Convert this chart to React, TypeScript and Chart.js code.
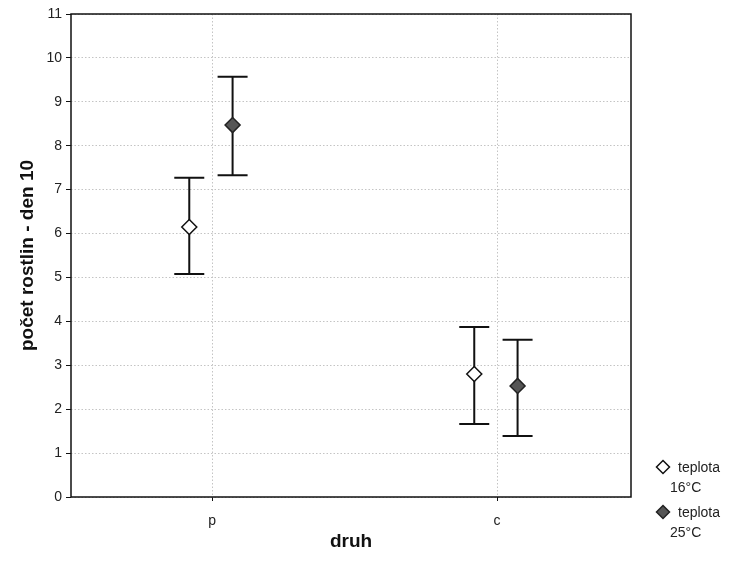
import React, { useEffect, useRef } from "react";
import { Chart, registerables } from "chart.js";

Chart.register(...registerables);

const categories = ["p", "c"];
const seriesLabels = ["teplota 16°C", "teplota 25°C"];
const mean16 = [6.15, 2.8];
const upper16 = [7.27, 3.87];
const lower16 = [5.08, 1.66];
const mean25 = [8.47, 2.53];
const upper25 = [9.57, 3.58];
const lower25 = [7.33, 1.39];
const yTicks = [0, 1, 2, 3, 4, 5, 6, 7, 8, 9, 10, 11];

const FONT = "'Liberation Sans', Arial, sans-serif";
const OFFSET_LEFT = -0.08;
const OFFSET_RIGHT = 0.072;

const errorBarPlugin = {
  id: "errorBars",
  beforeDatasetsDraw(chart: any) {
    const { ctx } = chart;
    const xs = chart.scales.x;
    const ys = chart.scales.y;
    ctx.save();
    ctx.strokeStyle = "#111";
    ctx.lineWidth = 2;
    chart.data.datasets.forEach((ds: any) => {
      ds.data.forEach((pt: any) => {
        const x = xs.getPixelForValue(pt.x);
        const yU = ys.getPixelForValue(pt.hi);
        const yL = ys.getPixelForValue(pt.lo);
        ctx.beginPath();
        ctx.moveTo(x, yU);
        ctx.lineTo(x, yL);
        ctx.moveTo(x - 15, yU);
        ctx.lineTo(x + 15, yU);
        ctx.moveTo(x - 15, yL);
        ctx.lineTo(x + 15, yL);
        ctx.stroke();
      });
    });
    ctx.restore();
  },
  afterDraw(chart: any) {
    const { ctx, chartArea } = chart;
    ctx.save();
    ctx.strokeStyle = "#111";
    ctx.lineWidth = 1.5;
    ctx.strokeRect(chartArea.left, chartArea.top, chartArea.right - chartArea.left, chartArea.bottom - chartArea.top);
    // legend
    const baseX = chartArea.right + 32;
    const baseY = chartArea.bottom - 30;
    chart.data.datasets.forEach((ds: any, i: number) => {
      const y = baseY + i * 45;
      const words = ds.label.split(" ");
      ctx.beginPath();
      ctx.moveTo(baseX, y - 6.5);
      ctx.lineTo(baseX + 6.5, y);
      ctx.lineTo(baseX, y + 6.5);
      ctx.lineTo(baseX - 6.5, y);
      ctx.closePath();
      ctx.fillStyle = ds.backgroundColor;
      ctx.fill();
      ctx.lineWidth = 1.5;
      ctx.strokeStyle = ds.borderColor;
      ctx.stroke();
      ctx.fillStyle = "#222";
      ctx.font = `14px ${FONT}`;
      ctx.textBaseline = "middle";
      ctx.textAlign = "left";
      ctx.fillText(words[0], baseX + 15, y + 1);
      ctx.fillText(words[1], baseX + 7, y + 21);
    });
    ctx.restore();
  },
};

export default function App() {
  const ref = useRef<HTMLCanvasElement>(null);
  useEffect(() => {
    if (!ref.current) return;
    const mk = (means: number[], hi: number[], lo: number[], off: number) =>
      categories.map((_, i) => ({ x: i + 1 + off, y: means[i], hi: hi[i], lo: lo[i] }));
    const chart = new Chart(ref.current, {
      type: "scatter",
      data: {
        datasets: [
          {
            label: seriesLabels[0],
            data: mk(mean16, upper16, lower16, OFFSET_LEFT),
            pointStyle: "rectRot",
            pointRadius: 7.5,
            backgroundColor: "#ffffff",
            borderColor: "#111111",
            borderWidth: 1.5,
          },
          {
            label: seriesLabels[1],
            data: mk(mean25, upper25, lower25, OFFSET_RIGHT),
            pointStyle: "rectRot",
            pointRadius: 7.5,
            backgroundColor: "#555555",
            borderColor: "#222222",
            borderWidth: 1.5,
          },
        ] as any,
      },
      options: {
        responsive: false,
        animation: false,
        layout: { padding: { left: 0, right: 109, top: 14, bottom: 0 } },
        plugins: { legend: { display: false }, tooltip: { enabled: false } },
        scales: {
          x: {
            type: "linear",
            min: 0.505,
            max: 2.47,
            afterBuildTicks: (s: any) => {
              s.ticks = categories.map((_, i) => ({ value: i + 1 }));
            },
            afterFit: (s: any) => {
              s.height = 65;
            },
            ticks: {
              callback: (v: any) => categories[Math.round(Number(v)) - 1] ?? "",
              font: { size: 14, family: FONT },
              color: "#222",
              padding: 12,
            },
            grid: { color: "#c4c4c4", lineWidth: 1, drawTicks: true, tickLength: 4, tickColor: "#111" },
            border: { display: false, dash: [1.5, 2] },
            title: {
              display: true,
              text: "druh",
              font: { size: 19, weight: "bold", family: FONT },
              color: "#111",
              padding: { top: 6, bottom: 9 },
            },
          },
          y: {
            type: "linear",
            min: 0,
            max: 11,
            afterBuildTicks: (s: any) => {
              s.ticks = yTicks.map((v) => ({ value: v }));
            },
            afterFit: (s: any) => {
              s.width = 71;
            },
            ticks: {
              font: { size: 14, family: FONT },
              color: "#222",
              padding: 4,
            },
            grid: { color: "#c4c4c4", lineWidth: 1, tickLength: 5, tickColor: "#111" },
            border: { display: false, dash: [1.5, 2] },
            title: {
              display: true,
              text: "počet rostlin - den 10",
              font: { size: 19, weight: "bold", family: FONT },
              color: "#111",
              padding: { top: 16, bottom: 0 },
            },
          },
        },
      },
      plugins: [errorBarPlugin],
    } as any);
    return () => chart.destroy();
  }, []);
  return (
    <div style={{ position: "fixed", left: 0, top: 0, width: 740, height: 562, background: "#fff" }}>
      <canvas ref={ref} width={740} height={562} />
    </div>
  );
}
